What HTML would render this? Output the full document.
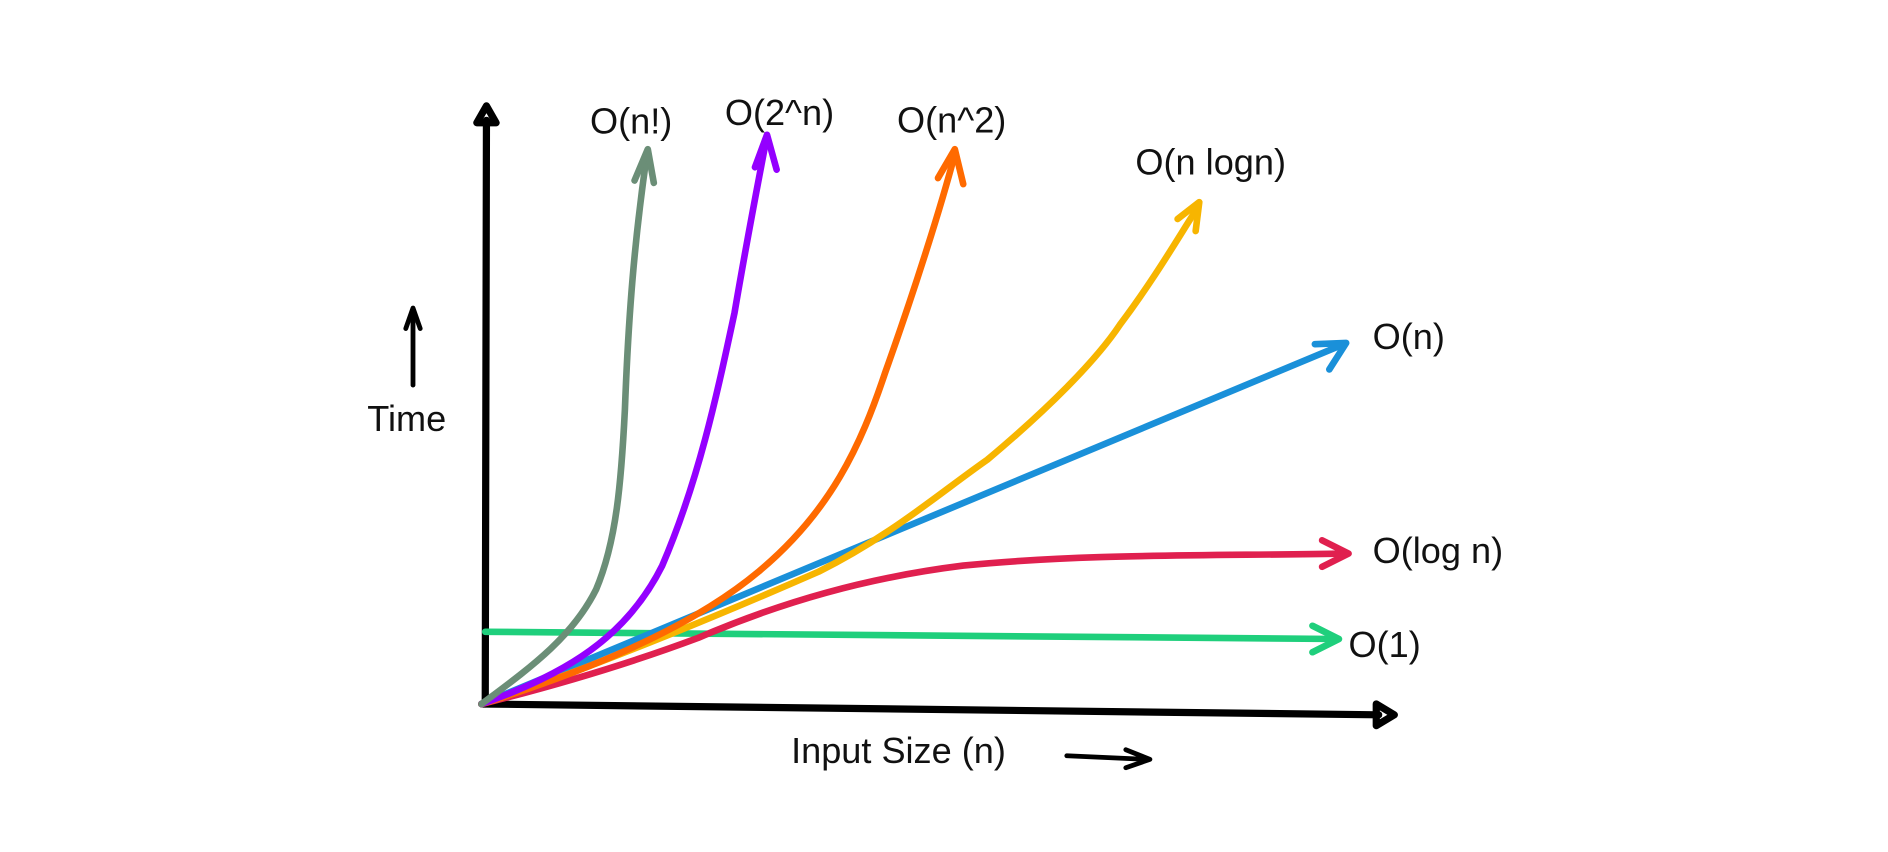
<!DOCTYPE html>
<html><head><meta charset="utf-8"><style>
html,body{margin:0;padding:0;background:#fff;}
svg{display:block}
text{font-family:"Liberation Sans Narrow","Liberation Sans",sans-serif;font-size:30px;fill:#111;}
</style></head><body>
<svg width="1888" height="852" viewBox="0 0 1568 708" preserveAspectRatio="none" xmlns="http://www.w3.org/2000/svg">
<rect width="1568" height="708" fill="#fff"/>
<g fill="none" stroke-linecap="round" stroke-linejoin="round">
<path d="M403 585 L404 100" stroke="#000" stroke-width="6"/>
<path d="M396 102 L404 88 L412 102 Z" stroke="#000" stroke-width="6"/>
<path d="M400 585 L1145 594" stroke="#000" stroke-width="6"/>
<path d="M1143 585 L1158 594 L1143 603 Z" stroke="#000" stroke-width="6"/>
<path d="M403 525 L1110 531" stroke="#1fcf7c" stroke-width="5.5"/>
<path d="M1090 520 L1112 531 L1090 542" stroke="#1fcf7c" stroke-width="5.5"/>
<path d="M400 585 C480 565 540 545 580 530 C650 500 720 480 800 470 C900 460 1000 462 1118 460" stroke="#e0204f" stroke-width="5.5"/>
<path d="M1098 449 L1120 460 L1098 471" stroke="#e0204f" stroke-width="5.5"/>
<path d="M400 585 L1116 286" stroke="#1a90d9" stroke-width="5.5"/>
<path d="M1092 286 L1118 285 L1104 307" stroke="#1a90d9" stroke-width="5.5"/>
<path d="M400 585 C480 560 600 510 680 475 C740 445 780 410 820 382 C870 340 910 300 930 270 C960 230 980 195 995 172" stroke="#f7b500" stroke-width="5.5"/>
<path d="M978 182 L996 168 L993 192" stroke="#f7b500" stroke-width="5.5"/>
<path d="M400 585 C480 560 570 525 630 475 C690 425 715 370 735 310 C760 240 782 170 793 128" stroke="#ff6a00" stroke-width="5.5"/>
<path d="M779 148 L793 124 L800 153" stroke="#ff6a00" stroke-width="5.5"/>
<path d="M400 585 C470 560 520 530 550 470 C580 400 595 330 610 260 C622 190 630 150 636 118" stroke="#9400ff" stroke-width="5.5"/>
<path d="M627 139 L637 112 L645 141" stroke="#9400ff" stroke-width="5.5"/>
<path d="M400 585 C440 555 475 530 495 490 C512 450 516 400 519 340 C522 260 527 200 537 130" stroke="#6b8e77" stroke-width="5.5"/>
<path d="M527 150 L538 124 L543 152" stroke="#6b8e77" stroke-width="5.5"/>
<path d="M343 320 L343 258" stroke="#000" stroke-width="4"/>
<path d="M337 273 L343 256 L349 273" stroke="#000" stroke-width="4"/>
<path d="M886 628 L952 631" stroke="#000" stroke-width="4"/>
<path d="M935 623 L955 631 L935 638" stroke="#000" stroke-width="4"/>
</g>
<text x="490" y="111">O(n!)</text>
<text x="602" y="104">O(2^n)</text>
<text x="745" y="110">O(n^2)</text>
<text x="943" y="145">O(n logn)</text>
<text x="1140" y="290">O(n)</text>
<text x="1140" y="468">O(log n)</text>
<text x="1120" y="546">O(1)</text>
<text x="305" y="358">Time</text>
<text x="657" y="634">Input Size (n)</text>
</svg>
</body></html>
